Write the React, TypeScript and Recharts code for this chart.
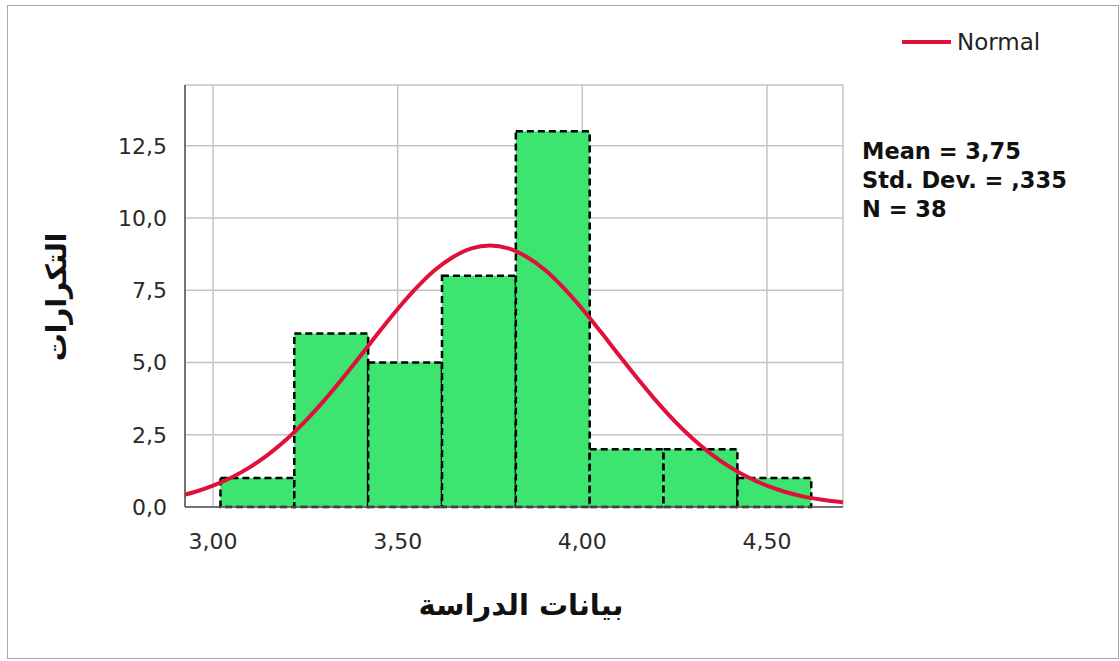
import {
  CartesianGrid,
  ComposedChart,
  Line,
  ReferenceArea,
  XAxis,
  YAxis,
} from "recharts";

// histogram bins (width 0.2)
const binStart = [3.02, 3.22, 3.42, 3.62, 3.82, 4.02, 4.22, 4.42];
const binEnd = [3.22, 3.42, 3.62, 3.82, 4.02, 4.22, 4.42, 4.62];
const binCount = [1, 6, 5, 8, 13, 2, 2, 1];

// normal curve
const curveX = [
  2.924, 2.95, 3.0, 3.05, 3.1, 3.15, 3.2, 3.25, 3.3, 3.35, 3.4, 3.45, 3.5,
  3.55, 3.6, 3.65, 3.7, 3.75, 3.8, 3.85, 3.9, 3.95, 4.0, 4.05, 4.1, 4.15, 4.2,
  4.25, 4.3, 4.35, 4.4, 4.45, 4.5, 4.55, 4.6, 4.65, 4.706,
];
const curveY = [
  0.43, 0.52, 0.74, 1.02, 1.38, 1.82, 2.35, 2.97, 3.67, 4.44, 5.24, 6.06,
  6.85, 7.57, 8.19, 8.65, 8.95, 9.05, 8.95, 8.65, 8.19, 7.57, 6.85, 6.06,
  5.24, 4.44, 3.67, 2.97, 2.35, 1.82, 1.38, 1.02, 0.74, 0.52, 0.36, 0.25,
  0.16,
];

const xTicks = [3.0, 3.5, 4.0, 4.5];
const yTicks = [0, 2.5, 5, 7.5, 10, 12.5];
const statLines = ["Mean = 3,75", "Std. Dev. = ,335", "N = 38"];

const curve = curveX.map((x, i) => ({ x, y: curveY[i] }));

const comma = (v: number, d: number) => v.toFixed(d).replace(".", ",");

export default function App() {
  return (
    <div
      style={{
        position: "absolute",
        left: 0,
        top: 0,
        width: 1120,
        height: 661,
        background: "#fff",
        fontFamily: "'DejaVu Sans', sans-serif",
      }}
    >
      <div
        style={{
          position: "absolute",
          left: 7,
          top: 5,
          width: 1110,
          height: 652,
          border: "1px solid #a8a8a8",
        }}
      />
      <ComposedChart
        width={1120}
        height={661}
        data={curve}
        margin={{ top: 85, right: 277, bottom: 124, left: 125 }}
        style={{ position: "absolute", left: 0, top: 0 }}
      >
        <CartesianGrid stroke="#c4c4c4" strokeWidth={1.5} />
        <XAxis
          dataKey="x"
          type="number"
          domain={[2.924, 4.706]}
          allowDataOverflow
          ticks={xTicks}
          tickFormatter={(v) => comma(v, 2)}
          tickLine={false}
          axisLine={{ stroke: "#555", strokeWidth: 1.5 }}
          tick={{ fill: "#2a2a2a", fontSize: 22 }}
          tickMargin={20}
          height={30}
        />
        <YAxis
          type="number"
          domain={[0, 14.6]}
          allowDataOverflow
          ticks={yTicks}
          tickFormatter={(v) => comma(v, 1)}
          tickLine={false}
          axisLine={{ stroke: "#555", strokeWidth: 1.5 }}
          tick={{ fill: "#2a2a2a", fontSize: 22 }}
          tickMargin={12}
          width={60}
        />
        {binStart.map((s, i) => (
          <ReferenceArea
            key={i}
            x1={s}
            x2={binEnd[i]}
            y1={0}
            y2={binCount[i]}
            fill="#3de46f"
            fillOpacity={1}
            stroke="#000"
            strokeWidth={2.5}
            strokeDasharray="7 4"
          />
        ))}
        <Line
          type="monotone"
          dataKey="y"
          name="Normal"
          stroke="#e0103c"
          strokeWidth={4}
          dot={false}
          isAnimationActive={false}
        />
      </ComposedChart>
      <div
        style={{
          position: "absolute",
          left: 902,
          top: 28,
          height: 28,
          display: "flex",
          alignItems: "center",
        }}
      >
        <span
          style={{
            display: "inline-block",
            width: 49,
            height: 4,
            background: "#e0103c",
            marginRight: 6,
          }}
        />
        <span style={{ fontSize: 23, color: "#222" }}>Normal</span>
      </div>
      <div
        style={{
          position: "absolute",
          left: 862,
          top: 137,
          fontSize: 22.5,
          fontWeight: "bold",
          lineHeight: "29px",
          color: "#111",
        }}
      >
        {statLines.map((t) => (
          <div key={t}>{t}</div>
        ))}
      </div>
      <div
        dir="rtl"
        style={{
          position: "absolute",
          left: 321,
          top: 588,
          width: 400,
          textAlign: "center",
          fontSize: 29,
          fontWeight: "bold",
          color: "#111",
        }}
      >
        بيانات الدراسة
      </div>
      <div
        dir="rtl"
        style={{
          position: "absolute",
          left: 57 - 100,
          top: 297 - 18,
          width: 200,
          height: 36,
          lineHeight: "36px",
          textAlign: "center",
          fontSize: 28,
          fontWeight: "bold",
          color: "#111",
          transform: "rotate(-90deg)",
        }}
      >
        التكرارات
      </div>
    </div>
  );
}
